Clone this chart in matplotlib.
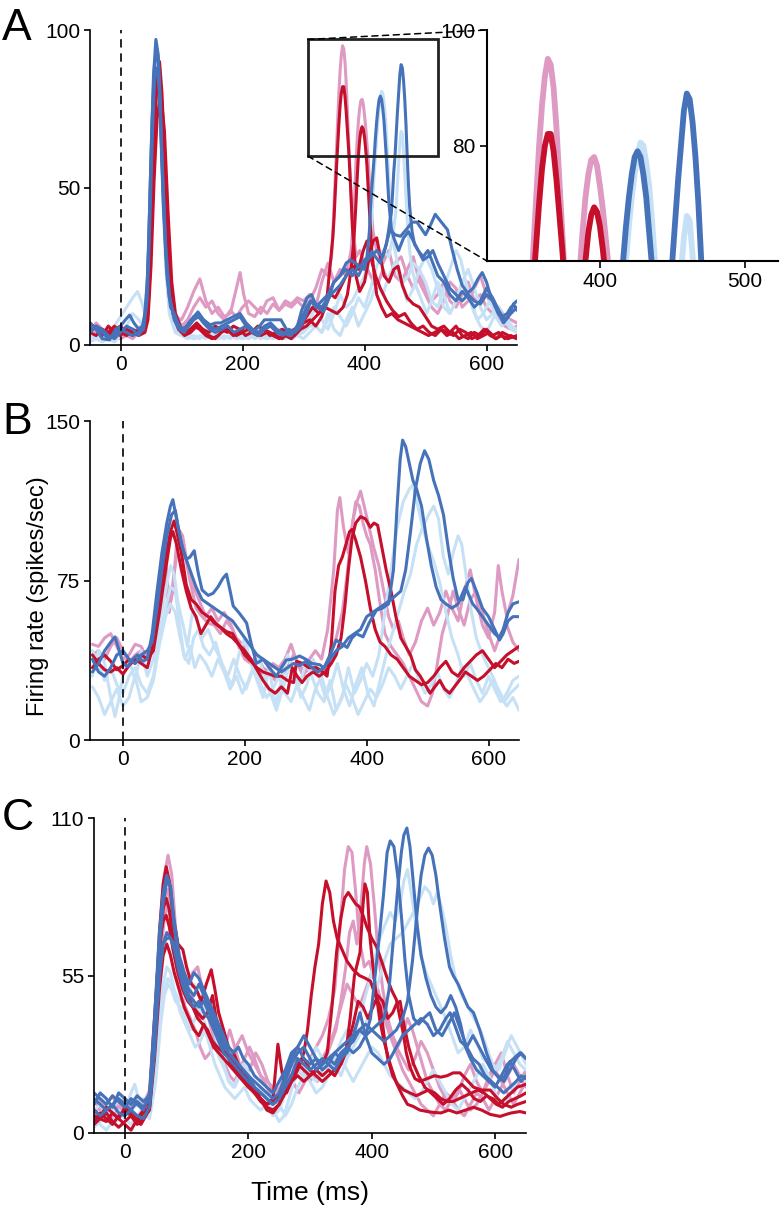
import matplotlib
matplotlib.use("Agg")
import matplotlib.pyplot as plt
from matplotlib.patches import Rectangle, ConnectionPatch

plt.rcParams['font.family'] = ['Liberation Sans', 'DejaVu Sans']

PINK = '#de9ac3'
RED = '#c50f2b'
LBLUE = '#c6e1f6'
BLUE = '#4672ba'

# ---- panel A traces, (time ms, rate) ----
A_PINK = [
    [(-50, 6), (-40, 4), (-30, 3), (-20, 5), (-10, 3), (0, 2), (10, 3), (20, 4), (30, 5), (40, 8), (45, 20), (50, 50), (55, 78), (60, 88), (65, 80), (70, 55), (75, 30), (80, 16), (90, 9), (100, 8), (110, 12), (120, 17), (130, 21), (140, 14), (150, 10), (160, 12), (170, 9), (180, 10), (190, 18), (196, 23), (202, 16), (210, 10), (220, 9), (230, 12), (240, 10), (250, 13), (260, 11), (270, 13), (280, 12), (290, 14), (300, 12), (310, 14), (320, 18), (330, 24), (340, 22), (346, 28), (348, 35), (350, 44), (352, 53), (354, 62), (356, 71), (358, 80), (360, 87), (362, 92), (364, 95), (366, 94), (368, 90), (370, 83), (372, 74), (374, 65), (376, 56), (378, 47), (380, 40), (386, 28), (392, 30), (400, 26), (410, 22), (420, 18), (430, 24), (440, 20), (450, 26), (460, 28), (470, 22), (480, 18), (490, 22), (500, 18), (510, 14), (520, 16), (530, 20), (540, 14), (550, 12), (560, 16), (570, 20), (580, 14), (590, 16), (600, 12), (610, 10), (620, 12), (630, 9), (640, 8), (650, 7)],
    [(-50, 4), (-40, 7), (-30, 5), (-20, 3), (-10, 4), (0, 5), (10, 3), (20, 2), (30, 4), (40, 6), (45, 18), (50, 45), (55, 75), (60, 85), (65, 82), (70, 60), (75, 35), (80, 18), (90, 10), (100, 6), (110, 8), (120, 12), (130, 15), (140, 12), (150, 14), (160, 10), (170, 8), (180, 11), (190, 9), (200, 12), (210, 14), (220, 12), (230, 10), (240, 14), (250, 15), (260, 11), (270, 14), (280, 13), (290, 15), (300, 14), (310, 16), (320, 12), (330, 20), (340, 26), (350, 20), (360, 24), (370, 22), (378, 30), (382, 40), (384, 48), (386, 58), (388, 65), (390, 71), (392, 75), (394, 77.5), (396, 78), (398, 76.5), (400, 73), (402, 69), (404, 64), (406, 59), (408, 52), (410, 46), (414, 36), (420, 30), (430, 26), (440, 30), (450, 22), (460, 20), (470, 24), (480, 28), (490, 20), (500, 16), (510, 12), (520, 10), (530, 14), (540, 20), (550, 18), (560, 12), (570, 14), (580, 18), (590, 22), (600, 16), (610, 12), (620, 8), (630, 6), (640, 5), (650, 6)],
]
A_LBLUE = [
    [(-50, 2), (-40, 3), (-30, 2), (-20, 4), (-10, 6), (0, 9), (10, 12), (20, 15), (28, 17), (34, 14), (40, 10), (45, 25), (50, 60), (55, 88), (58, 93), (62, 85), (68, 55), (74, 25), (80, 10), (90, 4), (100, 3), (110, 2), (120, 3), (130, 2), (140, 4), (150, 3), (160, 2), (170, 3), (180, 2), (190, 4), (200, 3), (210, 2), (220, 3), (230, 2), (240, 3), (250, 2), (260, 3), (270, 2), (280, 4), (290, 3), (300, 5), (310, 8), (320, 12), (330, 8), (340, 5), (350, 10), (360, 16), (370, 12), (380, 14), (390, 18), (400, 22), (408, 30), (412, 40), (414, 48), (416, 55), (418, 60), (420, 66), (422, 71), (424, 75), (426, 78.5), (428, 80.5), (430, 80), (432, 77), (434, 73), (436, 67), (438, 60), (440, 53), (442, 46), (448, 32), (456, 24), (464, 20), (472, 22), (480, 26), (490, 24), (500, 20), (510, 14), (520, 12), (530, 18), (540, 24), (550, 30), (558, 27), (566, 20), (575, 14), (585, 8), (595, 10), (605, 14), (615, 9), (625, 6), (635, 8), (645, 5), (650, 4)],
    [(-50, 3), (-40, 2), (-30, 4), (-20, 3), (-10, 2), (0, 4), (10, 5), (20, 3), (30, 5), (40, 7), (45, 20), (50, 52), (55, 80), (60, 88), (65, 78), (70, 50), (76, 22), (82, 9), (90, 4), (100, 3), (110, 4), (120, 2), (130, 3), (140, 2), (150, 4), (160, 3), (170, 2), (180, 3), (190, 2), (200, 3), (210, 4), (220, 2), (230, 3), (240, 2), (250, 3), (260, 4), (270, 3), (280, 2), (290, 3), (300, 2), (310, 4), (320, 6), (330, 4), (340, 8), (350, 12), (360, 9), (370, 6), (380, 10), (390, 15), (400, 12), (410, 18), (420, 25), (430, 30), (440, 28), (446, 34), (450, 40), (452, 44), (454, 51), (456, 58), (458, 64), (460, 67.8), (462, 67), (464, 61), (466, 54), (468, 47), (470, 40), (474, 30), (478, 24), (486, 18), (494, 14), (502, 10), (510, 14), (520, 20), (530, 16), (540, 10), (550, 14), (560, 20), (570, 16), (580, 10), (590, 6), (600, 4), (610, 8), (620, 12), (630, 8), (640, 6), (650, 5)],
    [(-50, 1), (-40, 2), (-30, 1), (-20, 2), (-10, 1), (0, 3), (10, 6), (20, 10), (30, 8), (40, 5), (45, 22), (50, 55), (55, 84), (60, 90), (65, 80), (70, 52), (76, 24), (82, 10), (90, 5), (100, 3), (120, 2), (140, 3), (160, 2), (180, 3), (200, 2), (220, 3), (240, 2), (260, 3), (280, 2), (300, 4), (310, 6), (320, 6), (330, 4), (340, 10), (350, 5), (360, 3), (370, 8), (380, 12), (390, 6), (400, 10), (410, 14), (420, 20), (430, 16), (440, 22), (450, 26), (460, 20), (470, 14), (480, 18), (490, 24), (500, 28), (510, 24), (520, 18), (530, 12), (540, 10), (550, 14), (560, 20), (570, 24), (580, 18), (590, 12), (600, 8), (610, 10), (620, 12), (630, 8), (640, 5), (650, 4)],
]
A_RED = [
    [(-50, 7), (-40, 5), (-30, 3), (-20, 6), (-10, 4), (0, 3), (10, 5), (20, 4), (30, 3), (40, 4), (45, 8), (50, 25), (55, 52), (60, 72), (66, 80), (72, 68), (78, 42), (84, 20), (90, 10), (100, 5), (110, 4), (120, 6), (130, 5), (140, 3), (150, 2), (160, 3), (170, 5), (180, 4), (190, 3), (200, 4), (210, 5), (220, 4), (230, 3), (240, 4), (250, 3), (260, 2), (270, 3), (280, 2), (290, 4), (300, 7), (310, 8), (320, 6), (330, 9), (338, 14), (344, 26), (348, 34), (350, 40), (352, 48), (354, 56), (356, 63), (358, 70), (360, 76), (362, 80), (364, 82), (366, 82), (368, 79), (370, 74), (372, 68), (374, 62), (376, 55), (378, 47), (380, 38), (386, 22), (392, 17), (400, 20), (408, 28), (414, 33), (420, 34), (426, 28), (432, 22), (440, 20), (448, 24), (455, 25), (462, 19), (470, 15), (480, 13), (490, 12), (500, 9), (510, 6), (520, 5), (530, 6), (540, 4), (550, 6), (560, 3), (570, 2), (580, 4), (590, 3), (600, 5), (610, 3), (620, 4), (630, 2), (640, 3), (650, 2)],
    [(-50, 4), (-40, 3), (-30, 5), (-20, 4), (-10, 6), (0, 4), (10, 3), (20, 5), (30, 4), (40, 5), (45, 10), (50, 32), (55, 62), (60, 86), (64, 90), (68, 80), (74, 52), (80, 26), (86, 12), (95, 6), (105, 4), (115, 5), (125, 7), (135, 5), (145, 4), (155, 6), (165, 5), (175, 4), (185, 6), (195, 5), (205, 3), (215, 4), (225, 6), (235, 5), (245, 3), (255, 4), (265, 5), (275, 4), (285, 3), (295, 5), (305, 6), (315, 8), (325, 10), (335, 12), (345, 11), (355, 10), (365, 12), (372, 16), (378, 24), (382, 32), (384, 38), (386, 45), (388, 53), (390, 60), (392, 65), (394, 68), (396, 69.3), (398, 68.5), (400, 66), (402, 62), (404, 57), (406, 50), (408, 43), (412, 30), (416, 22), (420, 16), (428, 12), (436, 9), (445, 10), (455, 8), (465, 7), (475, 6), (485, 5), (495, 4), (505, 3), (515, 4), (525, 5), (535, 3), (545, 4), (555, 2), (565, 3), (575, 4), (585, 2), (595, 3), (605, 4), (615, 2), (625, 3), (635, 2), (650, 3)],
    [(-50, 5), (-40, 6), (-30, 4), (-20, 3), (-10, 5), (0, 6), (10, 4), (20, 3), (30, 5), (40, 6), (45, 12), (50, 38), (55, 70), (60, 84), (64, 85), (68, 72), (74, 45), (80, 22), (86, 10), (95, 5), (105, 3), (115, 4), (125, 6), (135, 4), (145, 3), (155, 2), (165, 4), (175, 5), (185, 3), (195, 4), (205, 6), (215, 4), (225, 3), (235, 5), (245, 4), (255, 3), (265, 2), (275, 4), (285, 5), (295, 6), (305, 9), (315, 12), (325, 10), (335, 13), (345, 16), (352, 15), (360, 18), (370, 22), (380, 25), (390, 24), (398, 30), (404, 33), (410, 28), (418, 22), (426, 18), (436, 14), (446, 11), (456, 9), (466, 10), (476, 7), (486, 5), (496, 6), (506, 4), (516, 3), (526, 5), (536, 4), (546, 3), (556, 5), (566, 4), (576, 2), (586, 3), (596, 5), (606, 3), (616, 2), (626, 4), (636, 3), (650, 2)],
]
A_BLUE = [
    [(-50, 6), (-40, 5), (-30, 2), (-18, 1.6), (-8, 5), (0, 6), (8, 8), (15, 9.5), (22, 7), (30, 5), (36, 6), (42, 12), (46, 30), (50, 60), (54, 85), (58, 97), (62, 92), (66, 70), (70, 45), (76, 22), (82, 12), (88, 10), (94, 7), (100, 5), (108, 6), (116, 8), (127, 10.5), (136, 8), (147, 6.4), (156, 7), (164, 7), (175, 8), (185, 9), (196, 10), (206, 7), (219, 4.5), (228, 6), (236, 8), (250, 8), (263, 8), (272, 5), (280, 3), (290, 6), (297, 11), (306, 15), (313, 16), (322, 12), (333, 10.6), (342, 15), (349, 19.7), (360, 22), (370, 26), (377, 27), (385, 26), (393, 24.8), (400, 27), (406, 28), (412, 29.7), (418, 28), (426, 26), (434, 31), (442, 36.6), (450, 35), (459, 34.5), (470, 37), (478, 39), (486, 39), (493, 37), (500, 35), (508, 38), (516, 41.5), (526, 39), (536, 36.6), (544, 30), (552, 24), (560, 19), (569, 16.5), (578, 18), (586, 21), (593, 23), (600, 20), (606, 16), (612, 13.3), (619, 10), (626, 9), (634, 10), (640, 12), (645, 12.7), (650, 11)],
    [(-50, 4), (-40, 6), (-30, 5), (-20, 3), (-10, 2), (0, 4), (10, 6), (20, 5), (30, 3), (38, 6), (44, 20), (48, 45), (52, 72), (56, 90), (60, 93), (64, 84), (68, 60), (74, 32), (80, 16), (88, 8), (96, 5), (104, 4), (112, 6), (120, 8), (128, 9), (136, 7), (146, 5), (156, 4), (166, 5), (176, 6), (186, 4), (196, 5), (206, 6), (216, 4), (226, 3), (236, 5), (246, 6), (256, 4), (266, 3), (276, 5), (286, 4), (296, 6), (305, 10), (312, 14), (320, 12), (330, 14), (340, 16), (350, 20), (360, 22), (370, 24), (380, 22), (390, 25), (400, 24), (404, 28), (406, 32), (408, 36), (410, 44), (412, 50), (414, 55), (416, 60), (418, 66), (420, 71), (422, 75), (424, 78), (426, 79), (428, 78), (430, 75), (432, 71), (434, 65), (436, 59), (438, 52), (440, 45), (444, 37), (448, 34), (456, 30), (464, 34), (472, 36), (480, 33), (488, 30), (496, 28), (504, 30), (512, 26), (520, 22), (530, 20), (540, 16), (550, 14), (560, 17), (570, 15), (580, 12), (590, 14), (600, 18), (610, 15), (620, 11), (630, 8), (640, 10), (650, 12)],
    [(-50, 7), (-40, 5), (-30, 4), (-20, 2), (-10, 3), (0, 5), (10, 4), (20, 3), (30, 4), (38, 5), (44, 15), (48, 38), (52, 65), (56, 85), (60, 88), (64, 80), (68, 58), (74, 30), (80, 15), (88, 9), (96, 6), (104, 5), (112, 7), (120, 9), (128, 10), (136, 8), (146, 6), (156, 5), (166, 6), (176, 7), (186, 8), (196, 9), (206, 6), (216, 5), (226, 4), (236, 6), (246, 7), (256, 5), (266, 4), (276, 3), (286, 5), (296, 8), (305, 12), (312, 14), (320, 13), (330, 12), (340, 15), (350, 17), (360, 19), (370, 22), (380, 24), (390, 22), (400, 26), (410, 28), (420, 30), (430, 28), (436, 32), (440, 37), (442, 40), (444, 42), (446, 48), (448, 55), (450, 60), (452, 67), (454, 74), (456, 80), (458, 86), (460, 89), (462, 88), (464, 84), (466, 78), (468, 70), (470, 60), (472, 51), (474, 44), (478, 36), (482, 32), (488, 30), (496, 27), (504, 28), (512, 30), (520, 26), (530, 22), (540, 18), (550, 16), (560, 14), (570, 16), (580, 14), (590, 13), (600, 16), (610, 14), (620, 10), (628, 7), (636, 9), (644, 13), (650, 14)],
]

# ---- panel B traces ----
B_PINK = [
    [(-50, 45), (-40, 44), (-30, 48), (-20, 50), (-10, 44), (0, 38), (10, 40), (20, 45), (30, 44), (40, 38), (50, 50), (60, 75), (66, 88), (72, 80), (76, 62), (82, 70), (90, 100), (98, 96), (106, 82), (116, 72), (126, 65), (136, 58), (146, 62), (156, 56), (166, 60), (176, 55), (186, 48), (196, 45), (206, 40), (216, 35), (226, 32), (236, 30), (246, 36), (256, 34), (266, 38), (276, 45), (286, 36), (296, 30), (306, 38), (316, 42), (326, 38), (336, 52), (346, 80), (352, 108), (356, 114), (362, 100), (370, 88), (378, 104), (384, 112), (390, 117), (396, 110), (404, 100), (412, 90), (420, 82), (428, 70), (436, 58), (444, 52), (452, 56), (460, 48), (470, 40), (480, 46), (490, 56), (500, 62), (510, 54), (520, 60), (530, 70), (540, 62), (550, 56), (560, 70), (570, 80), (580, 66), (590, 54), (600, 48), (610, 60), (616, 82), (622, 70), (630, 58), (640, 68), (650, 85)],
    [(-50, 40), (-40, 42), (-30, 38), (-20, 44), (-10, 48), (0, 42), (10, 36), (20, 40), (30, 42), (40, 40), (50, 48), (58, 70), (64, 82), (70, 75), (76, 60), (84, 78), (92, 95), (100, 90), (110, 75), (120, 62), (130, 58), (140, 55), (150, 54), (160, 50), (170, 56), (180, 52), (190, 44), (200, 38), (210, 36), (220, 40), (230, 34), (240, 32), (250, 28), (260, 30), (270, 34), (280, 40), (290, 35), (300, 32), (310, 35), (320, 30), (330, 34), (340, 40), (350, 48), (360, 60), (368, 78), (376, 100), (382, 112), (388, 110), (394, 102), (400, 96), (406, 92), (414, 80), (422, 64), (430, 50), (440, 44), (450, 40), (460, 36), (470, 30), (480, 24), (490, 18), (500, 16), (508, 22), (516, 36), (524, 50), (532, 58), (542, 70), (550, 62), (560, 54), (570, 66), (580, 70), (590, 60), (600, 50), (610, 42), (620, 50), (630, 54), (640, 46), (650, 42)],
]
B_LBLUE = [
    [(-50, 30), (-40, 42), (-30, 36), (-20, 20), (-13, 11), (-6, 20), (0, 30), (10, 38), (20, 28), (30, 42), (40, 30), (50, 38), (60, 55), (70, 70), (78, 82), (84, 78), (90, 65), (98, 55), (106, 44), (114, 60), (122, 56), (130, 48), (140, 52), (150, 44), (160, 38), (170, 30), (180, 26), (190, 40), (200, 48), (210, 36), (220, 28), (230, 20), (240, 34), (250, 16), (260, 28), (270, 40), (280, 32), (290, 26), (300, 36), (310, 30), (320, 22), (330, 18), (340, 28), (350, 14), (360, 20), (370, 34), (380, 22), (390, 28), (400, 36), (410, 30), (420, 40), (430, 60), (440, 80), (450, 100), (460, 112), (470, 118), (476, 120), (484, 110), (492, 100), (500, 92), (510, 84), (520, 74), (530, 60), (540, 48), (550, 40), (560, 30), (570, 36), (580, 28), (590, 22), (600, 30), (610, 24), (620, 18), (630, 22), (640, 28), (650, 30)],
    [(-50, 42), (-40, 36), (-30, 28), (-20, 34), (-10, 26), (0, 22), (10, 30), (20, 34), (30, 26), (40, 22), (50, 30), (60, 48), (70, 62), (78, 72), (86, 70), (94, 52), (100, 40), (108, 36), (116, 48), (124, 52), (132, 44), (142, 40), (152, 46), (162, 36), (172, 30), (182, 38), (192, 30), (202, 24), (212, 32), (222, 40), (232, 30), (242, 22), (252, 14), (262, 24), (272, 34), (282, 30), (292, 20), (302, 26), (312, 38), (322, 30), (332, 20), (342, 26), (352, 36), (362, 24), (372, 16), (382, 26), (392, 34), (402, 22), (412, 16), (422, 28), (432, 40), (442, 50), (452, 60), (462, 70), (472, 78), (482, 92), (492, 100), (502, 106), (510, 110), (518, 104), (526, 86), (534, 78), (542, 88), (550, 96), (556, 92), (564, 76), (572, 60), (580, 48), (590, 40), (600, 34), (610, 28), (620, 20), (630, 16), (640, 20), (650, 14)],
    [(-50, 25), (-40, 20), (-30, 12), (-20, 18), (-10, 24), (0, 16), (10, 20), (20, 30), (30, 18), (40, 20), (50, 28), (60, 45), (70, 58), (78, 64), (86, 60), (94, 48), (102, 38), (110, 44), (118, 34), (126, 40), (136, 36), (146, 30), (156, 38), (166, 32), (176, 24), (186, 30), (196, 22), (206, 28), (216, 36), (226, 26), (236, 20), (246, 24), (256, 30), (266, 22), (276, 18), (286, 26), (296, 20), (306, 14), (316, 24), (326, 30), (336, 20), (346, 12), (356, 18), (366, 26), (376, 20), (386, 12), (396, 18), (406, 24), (416, 20), (426, 26), (436, 34), (446, 30), (456, 24), (466, 30), (476, 36), (486, 28), (496, 22), (506, 26), (516, 32), (526, 24), (536, 20), (546, 26), (556, 34), (566, 30), (576, 24), (586, 18), (596, 22), (606, 28), (616, 24), (626, 18), (636, 22), (650, 26)],
]
B_RED = [
    [(-50, 40), (-40, 36), (-30, 33), (-20, 32), (-10, 34), (0, 31), (10, 35), (20, 38), (30, 36), (40, 34), (50, 45), (60, 65), (70, 85), (78, 98), (84, 103), (90, 96), (96, 88), (104, 73), (112, 66), (120, 64), (130, 60), (140, 58), (150, 55), (160, 53), (170, 51), (180, 50), (190, 45), (200, 40), (210, 37), (220, 34), (230, 32), (240, 31), (250, 30), (260, 30), (270, 28), (280, 27), (285, 37), (295, 36), (305, 34), (318, 34), (328, 32), (335, 30), (342, 45), (348, 70), (354, 82), (360, 86), (366, 92), (372, 98), (376, 99), (382, 94), (390, 86), (398, 75), (406, 62), (414, 52), (422, 46), (430, 44), (440, 40), (450, 38), (460, 34), (470, 30), (480, 28), (490, 26), (500, 27), (510, 30), (520, 34), (530, 37), (540, 32), (550, 30), (560, 34), (570, 37), (580, 40), (590, 42), (600, 38), (610, 34), (620, 37), (630, 40), (640, 42), (650, 44)],
    [(-50, 34), (-40, 38), (-30, 40), (-20, 37), (-10, 33), (0, 35), (10, 38), (20, 36), (30, 40), (40, 38), (50, 42), (60, 60), (70, 80), (78, 95), (82, 98), (88, 92), (96, 80), (104, 70), (112, 62), (120, 58), (128, 50), (136, 54), (144, 58), (152, 55), (160, 53), (170, 50), (180, 48), (190, 45), (200, 42), (210, 38), (220, 33), (230, 28), (240, 24), (250, 22), (260, 25), (270, 22), (278, 34), (286, 30), (294, 27), (302, 30), (312, 32), (322, 30), (332, 32), (342, 36), (350, 40), (358, 48), (364, 62), (370, 80), (376, 95), (382, 102), (390, 105), (398, 104), (406, 100), (412, 102), (418, 101), (424, 92), (432, 80), (440, 70), (448, 58), (456, 48), (464, 44), (472, 40), (480, 33), (488, 30), (496, 26), (504, 22), (512, 25), (520, 28), (528, 24), (536, 22), (544, 25), (552, 28), (562, 32), (572, 30), (582, 28), (592, 30), (602, 33), (612, 36), (622, 34), (632, 38), (642, 36), (650, 37)],
]
B_BLUE = [
    [(-50, 32), (-40, 36), (-30, 42), (-20, 46), (-13, 48.5), (-6, 42), (0, 36), (8, 34.5), (16, 38), (24, 40), (32, 37), (40, 38), (48, 50), (56, 70), (64, 88), (72, 102), (78, 110), (82, 113), (88, 104), (96, 92), (104, 85), (110, 86), (117, 89), (124, 78), (130, 70.5), (140, 68), (148, 69), (156, 72), (164, 76), (170, 78), (176, 70), (181, 63), (190, 60), (198, 57), (203, 55), (210, 46), (219, 36), (225, 37), (230, 38), (240, 34), (252, 30), (260, 34), (268, 37.6), (278, 38), (290, 39.5), (300, 38), (310, 36), (323, 35.4), (330, 33.8), (340, 40), (350, 47), (360, 45), (368, 43.5), (376, 48), (383, 50), (394, 48.5), (404, 55), (416, 61), (426, 62), (436, 64), (444, 80), (450, 110), (455, 132), (459, 141), (464, 138), (470, 130), (476, 122), (482, 118), (490, 110), (498, 95), (506, 82), (514, 72), (522, 66), (530, 64), (540, 62), (550, 64), (556, 68), (562, 72), (568, 68), (574, 64), (580, 62), (590, 58), (600, 54), (610, 50), (618, 48), (624, 52), (632, 60), (640, 64), (650, 65)],
    [(-50, 38), (-40, 32), (-30, 30), (-20, 34), (-10, 40), (0, 42), (10, 38), (20, 36), (30, 40), (40, 42), (48, 46), (56, 62), (64, 80), (72, 96), (80, 106), (86, 108), (92, 98), (100, 88), (110, 80), (120, 72), (130, 66), (140, 64), (150, 62), (160, 60), (170, 58), (180, 56), (190, 52), (200, 48), (210, 44), (220, 40), (230, 38), (240, 36), (250, 34), (260, 32), (270, 34), (280, 36), (290, 35), (300, 37), (310, 34), (320, 32), (330, 34), (340, 38), (350, 42), (360, 44), (370, 48), (380, 50), (390, 52), (400, 58), (410, 60), (420, 62), (430, 64), (440, 66), (448, 68), (456, 70), (464, 80), (472, 98), (480, 118), (488, 130), (495, 136), (502, 132), (510, 122), (518, 115), (526, 106), (534, 90), (542, 76), (550, 66), (558, 66), (566, 74), (572, 76), (580, 70), (590, 62), (600, 58), (610, 52), (618, 47), (624, 50), (632, 56), (640, 58), (650, 58)],
]

# ---- panel C traces ----
C_PINK = [
    [(-50, 12), (-40, 8), (-30, 10), (-20, 13), (-10, 8), (0, 11), (10, 9), (20, 12), (30, 10), (40, 15), (50, 45), (58, 75), (64, 90), (70, 97), (76, 90), (82, 72), (88, 62), (94, 58), (102, 52), (110, 56), (118, 58), (126, 50), (134, 44), (142, 40), (150, 34), (160, 30), (170, 26), (180, 30), (190, 34), (200, 28), (210, 24), (220, 20), (230, 18), (240, 16), (250, 14), (260, 18), (270, 24), (280, 22), (290, 20), (300, 26), (310, 30), (320, 34), (330, 40), (340, 50), (348, 70), (356, 92), (362, 100), (368, 98), (374, 84), (380, 68), (388, 58), (396, 60), (404, 54), (412, 48), (420, 40), (430, 34), (440, 30), (450, 26), (460, 22), (470, 26), (480, 32), (490, 28), (500, 22), (510, 16), (520, 12), (530, 10), (540, 14), (550, 20), (560, 24), (570, 18), (580, 14), (590, 20), (600, 24), (610, 28), (620, 20), (630, 14), (640, 18), (650, 22)],
    [(-50, 6), (-40, 10), (-30, 8), (-20, 5), (-10, 9), (0, 12), (10, 8), (20, 6), (30, 8), (40, 12), (50, 40), (58, 70), (64, 82), (70, 85), (76, 76), (82, 66), (90, 56), (98, 48), (106, 50), (114, 44), (122, 40), (130, 46), (138, 38), (146, 32), (154, 26), (162, 30), (170, 36), (178, 30), (186, 24), (194, 20), (202, 22), (212, 28), (222, 24), (232, 18), (242, 14), (252, 16), (262, 22), (272, 18), (282, 14), (292, 18), (302, 22), (312, 18), (322, 24), (332, 30), (342, 36), (350, 46), (358, 58), (364, 70), (370, 74), (376, 66), (382, 78), (388, 94), (392, 100), (398, 94), (404, 80), (410, 64), (418, 50), (426, 40), (434, 34), (442, 30), (450, 34), (458, 40), (466, 36), (474, 30), (482, 24), (490, 18), (500, 14), (510, 10), (520, 8), (530, 12), (540, 16), (550, 12), (560, 8), (570, 10), (580, 14), (590, 18), (600, 22), (610, 18), (620, 14), (630, 10), (640, 14), (650, 18)],
    [(-50, 10), (-40, 12), (-30, 6), (-20, 9), (-10, 11), (0, 7), (10, 10), (20, 13), (30, 9), (40, 12), (50, 35), (58, 62), (64, 75), (70, 80), (76, 72), (82, 60), (90, 50), (98, 44), (106, 40), (114, 36), (122, 30), (130, 26), (138, 28), (146, 34), (154, 30), (162, 24), (170, 20), (178, 18), (186, 22), (194, 26), (202, 30), (210, 26), (220, 20), (230, 16), (240, 12), (250, 10), (260, 14), (270, 20), (280, 26), (290, 22), (300, 18), (310, 22), (320, 26), (330, 30), (340, 36), (350, 44), (360, 52), (370, 48), (380, 44), (390, 50), (400, 56), (410, 50), (420, 42), (430, 34), (440, 28), (450, 22), (460, 18), (470, 14), (480, 10), (490, 8), (500, 6), (510, 10), (520, 14), (530, 12), (540, 8), (550, 6), (560, 10), (570, 14), (580, 12), (590, 8), (600, 12), (610, 16), (620, 20), (630, 24), (640, 20), (650, 16)],
]
C_LBLUE = [
    [(-50, 2), (-40, 4), (-30, 6), (-20, 3), (-10, 5), (0, 8), (10, 14), (16, 17), (22, 12), (30, 8), (40, 6), (48, 20), (56, 40), (62, 52), (68, 58), (74, 56), (80, 50), (88, 46), (96, 48), (104, 50), (112, 52), (120, 48), (128, 44), (136, 40), (144, 36), (152, 30), (160, 24), (168, 18), (176, 16), (184, 20), (192, 24), (200, 18), (210, 14), (220, 16), (230, 12), (240, 8), (250, 4), (258, 6), (266, 12), (274, 18), (282, 22), (290, 20), (300, 24), (310, 30), (320, 26), (330, 22), (340, 26), (350, 32), (360, 36), (370, 34), (380, 40), (390, 48), (400, 56), (410, 66), (420, 72), (430, 77), (438, 74), (446, 80), (452, 88), (458, 92), (464, 84), (472, 72), (480, 62), (488, 56), (496, 52), (504, 48), (512, 44), (520, 40), (530, 34), (540, 28), (550, 30), (560, 36), (570, 32), (580, 26), (590, 24), (600, 22), (610, 26), (620, 32), (630, 28), (640, 24), (650, 22)],
    [(-50, 5), (-40, 3), (-30, 1), (-20, 4), (-10, 8), (0, 5), (10, 3), (20, 6), (30, 9), (40, 5), (50, 18), (58, 38), (64, 48), (70, 52), (76, 50), (82, 46), (90, 44), (98, 40), (106, 36), (114, 40), (122, 44), (130, 38), (138, 34), (146, 30), (154, 26), (162, 22), (170, 18), (178, 16), (186, 20), (194, 24), (202, 20), (210, 16), (220, 12), (230, 10), (240, 6), (250, 8), (260, 14), (270, 20), (280, 26), (290, 24), (300, 20), (310, 18), (320, 22), (330, 28), (340, 24), (350, 20), (360, 26), (370, 30), (380, 34), (390, 38), (400, 44), (410, 52), (420, 60), (430, 66), (440, 68), (450, 70), (460, 74), (470, 78), (478, 82), (486, 86), (494, 84), (500, 80), (506, 84), (512, 80), (520, 72), (528, 62), (536, 54), (546, 48), (556, 44), (566, 40), (576, 36), (586, 30), (596, 24), (606, 22), (616, 28), (626, 34), (636, 30), (650, 24)],
    [(-50, 8), (-40, 10), (-30, 6), (-20, 8), (-10, 12), (0, 10), (10, 8), (20, 10), (30, 12), (40, 10), (50, 24), (58, 42), (64, 50), (70, 54), (76, 52), (82, 48), (90, 42), (98, 38), (106, 34), (114, 30), (122, 32), (130, 36), (138, 30), (146, 24), (154, 20), (162, 16), (170, 14), (178, 12), (186, 14), (194, 16), (202, 12), (210, 10), (220, 8), (230, 10), (240, 14), (250, 10), (260, 6), (270, 10), (280, 16), (290, 20), (300, 18), (310, 14), (320, 16), (330, 20), (340, 24), (350, 26), (360, 22), (370, 18), (380, 22), (390, 26), (400, 30), (410, 28), (420, 24), (430, 20), (440, 18), (450, 16), (460, 14), (470, 12), (480, 14), (490, 18), (500, 22), (510, 18), (520, 14), (530, 10), (540, 8), (550, 12), (560, 16), (570, 20), (580, 24), (590, 20), (600, 14), (610, 10), (620, 12), (630, 16), (640, 20), (650, 18)],
]
C_RED = [
    [(-50, 6), (-40, 5), (-30, 4), (-20, 7), (-10, 5), (0, 3), (5, 2), (10, 1), (18, 4), (26, 3), (34, 6), (40, 10), (48, 35), (56, 70), (62, 87), (67, 93), (72, 88), (78, 76), (86, 66), (94, 64), (100, 58), (108, 52), (116, 50), (124, 46), (132, 52), (140, 57), (146, 50), (152, 42), (160, 36), (168, 30), (176, 28), (184, 24), (192, 20), (200, 18), (210, 14), (220, 12), (230, 10), (240, 12), (248, 31), (254, 22), (262, 14), (270, 18), (280, 22), (290, 28), (296, 36), (302, 48), (308, 58), (314, 66), (320, 80), (326, 88), (332, 84), (338, 74), (344, 68), (352, 64), (360, 60), (370, 57), (380, 55), (390, 54), (398, 53), (406, 48), (414, 44), (420, 34), (426, 26), (434, 20), (442, 17), (452, 15), (462, 14), (472, 13), (482, 14), (492, 15), (502, 14), (512, 12), (522, 11), (532, 11), (542, 12), (552, 13), (562, 14), (572, 15), (582, 14), (592, 12), (602, 10), (612, 9), (622, 11), (632, 12), (642, 13), (650, 14)],
    [(-50, 4), (-40, 7), (-30, 5), (-20, 3), (-10, 6), (0, 8), (10, 6), (20, 4), (30, 7), (40, 9), (48, 30), (56, 62), (62, 78), (67, 82), (72, 78), (78, 68), (86, 60), (94, 52), (102, 48), (110, 44), (118, 40), (126, 38), (134, 36), (142, 32), (150, 30), (160, 28), (170, 26), (180, 24), (190, 22), (200, 19), (210, 16), (220, 12), (230, 8), (240, 7), (250, 10), (260, 15), (270, 20), (280, 24), (290, 22), (300, 20), (310, 22), (320, 24), (328, 28), (336, 45), (343, 63), (350, 75), (356, 82), (362, 84), (368, 82), (374, 80), (380, 79), (386, 76), (392, 72), (400, 68), (408, 65), (416, 60), (424, 54.7), (432, 50), (440, 46.5), (446, 40), (451, 35), (456, 28), (462, 23), (470, 19), (478, 18), (490, 19), (502, 20), (512, 19.5), (522, 20), (532, 21), (543, 21), (552, 19), (565, 16), (578, 15), (592, 15), (604, 12), (614, 10), (626, 9), (636, 10), (650, 11)],
    [(-50, 8), (-40, 6), (-30, 9), (-20, 7), (-10, 5), (0, 9), (10, 7), (20, 5), (30, 8), (40, 12), (48, 40), (56, 66), (62, 74), (67, 76), (72, 72), (78, 64), (86, 56), (94, 50), (102, 46), (110, 44), (118, 42), (126, 40), (134, 42), (142, 48), (148, 40), (156, 34), (164, 28), (172, 24), (180, 22), (190, 20), (200, 17), (210, 14), (220, 11), (230, 9), (240, 8), (250, 10), (260, 14), (270, 18), (280, 20), (290, 18), (300, 20), (310, 22), (320, 20), (330, 22), (340, 20), (350, 24), (358, 28), (365, 40), (372, 55), (381, 63), (386, 80), (389, 87), (393, 84), (397, 68.6), (405, 52), (413, 39.6), (420, 32), (430, 24), (440, 17.5), (450, 13), (458, 10), (467, 9.3), (478, 8), (490, 7.5), (500, 7.2), (512, 7), (525, 8), (538, 7), (552, 8), (565, 9), (578, 8), (592, 6.5), (608, 5.8), (618, 6.5), (626, 7), (640, 7.5), (650, 7)],
    [(-50, 3), (-40, 5), (-30, 7), (-20, 4), (-10, 2), (0, 4), (10, 6), (20, 3), (30, 5), (40, 8), (48, 26), (56, 50), (62, 62), (68, 66), (74, 62), (80, 56), (88, 50), (96, 44), (104, 40), (112, 36), (120, 34), (128, 38), (136, 34), (144, 30), (152, 28), (160, 26), (168, 24), (176, 22), (184, 20), (192, 18), (200, 16), (210, 14), (220, 12), (230, 10), (240, 11), (250, 13), (260, 16), (270, 20), (280, 24), (290, 26), (300, 22), (310, 20), (320, 18), (330, 20), (340, 22), (350, 24), (360, 30), (370, 38), (378, 46), (386, 44), (394, 40), (402, 44), (410, 48), (418, 46), (426, 40), (434, 42), (440, 45), (446, 46), (452, 38), (460, 30), (468, 24), (476, 20), (486, 16), (496, 14), (506, 12), (516, 10), (526, 12), (536, 15), (546, 17), (556, 15), (566, 12), (576, 11), (586, 13), (596, 12), (606, 10), (616, 12), (626, 14), (636, 16), (650, 17)],
]
C_BLUE = [
    [(-50, 14), (-40, 12), (-30, 10), (-20, 13), (-10, 11), (0, 9), (10, 12), (20, 10), (30, 8), (40, 14), (48, 40), (56, 70), (62, 84), (68, 90), (74, 86), (80, 72), (88, 60), (96, 54), (104, 50), (112, 48), (120, 52), (128, 48), (136, 44), (144, 40), (152, 36), (160, 32), (168, 28), (176, 26), (184, 24), (192, 22), (200, 20), (210, 16), (220, 14), (230, 12), (240, 10), (250, 12), (260, 18), (270, 24), (280, 28), (290, 30), (300, 26), (310, 22), (320, 24), (330, 26), (340, 24), (350, 28), (360, 30), (370, 28), (380, 30), (390, 34), (398, 40), (406, 56), (413, 70), (419, 83), (425, 98), (430, 102), (436, 100), (442, 90), (448, 76), (454, 60), (460, 48), (468, 40), (476, 38), (484, 40), (494, 42), (504, 36), (514, 34), (524, 38), (534, 42), (544, 36), (554, 30), (564, 26), (574, 24), (584, 20), (594, 18), (604, 16), (614, 14), (624, 16), (634, 18), (642, 20), (650, 19)],
    [(-50, 10), (-40, 14), (-30, 12), (-20, 9), (-10, 14), (0, 12), (10, 10), (20, 13), (30, 11), (40, 13), (48, 35), (56, 65), (62, 80), (68, 88), (74, 86), (80, 74), (88, 62), (96, 56), (104, 52), (112, 56), (120, 54), (128, 50), (136, 46), (144, 42), (152, 38), (160, 34), (168, 30), (176, 28), (184, 30), (192, 26), (200, 24), (210, 20), (220, 18), (230, 16), (240, 14), (250, 18), (260, 22), (270, 28), (280, 30), (290, 26), (300, 24), (310, 26), (320, 22), (330, 24), (340, 28), (350, 26), (360, 30), (370, 32), (380, 36), (390, 34), (400, 36), (410, 38), (420, 40), (428, 50), (436, 70), (442, 85), (448, 98), (452, 104), (457, 106.5), (462, 100), (468, 86), (474, 72), (480, 62), (488, 54), (496, 48), (504, 44), (512, 42), (520, 44), (528, 48), (536, 44), (544, 38), (552, 30), (560, 26), (570, 22), (580, 20), (590, 18), (600, 16), (610, 20), (620, 24), (630, 26), (640, 28), (650, 26)],
    [(-50, 12), (-40, 10), (-30, 8), (-20, 10), (-10, 12), (0, 10), (10, 8), (20, 11), (30, 9), (40, 12), (48, 30), (56, 55), (62, 66), (68, 68), (74, 68), (80, 66), (88, 58), (96, 52), (104, 48), (112, 46), (120, 44), (128, 46), (136, 42), (144, 38), (152, 34), (160, 30), (168, 28), (176, 26), (184, 24), (192, 22), (200, 20), (210, 18), (220, 16), (230, 14), (240, 12), (250, 14), (260, 20), (270, 26), (280, 30), (290, 34), (300, 30), (310, 26), (320, 24), (330, 26), (340, 28), (350, 30), (360, 32), (370, 34), (380, 36), (390, 38), (400, 36), (410, 34), (420, 32), (430, 34), (440, 36), (450, 40), (458, 46), (466, 60), (474, 78), (480, 90), (486, 97), (492, 99.5), (498, 97), (504, 90), (510, 80), (518, 68), (526, 58), (532, 55), (540, 52), (548, 48), (556, 44), (565, 42), (575, 36), (586, 28), (596, 22), (608, 18.6), (616, 20), (624, 25), (632, 22), (642, 18), (650, 20)],
    [(-50, 8), (-40, 6), (-30, 8), (-20, 10), (-10, 7), (0, 6), (10, 8), (20, 6), (30, 5), (40, 9), (48, 28), (56, 55), (62, 66), (68, 70), (74, 68), (80, 64), (88, 56), (96, 50), (104, 46), (112, 44), (120, 46), (128, 42), (136, 40), (144, 36), (152, 32), (160, 28), (168, 26), (176, 24), (184, 22), (192, 20), (200, 18), (210, 16), (220, 14), (230, 12), (240, 10), (250, 12), (260, 16), (270, 20), (280, 26), (290, 24), (300, 22), (310, 24), (320, 26), (330, 24), (340, 22), (350, 26), (360, 28), (370, 34), (381, 42), (390, 34), (400, 28), (410, 26), (420, 24), (430, 26), (440, 30), (450, 34), (460, 36), (470, 38), (480, 40), (490, 38), (500, 34), (510, 36), (520, 40), (527, 42), (534, 38), (544, 32), (554, 30), (564, 34), (574, 30), (584, 26), (594, 22), (604, 20), (614, 18), (624, 22), (634, 26), (642, 28), (650, 26)],
]

Y_TICKS_A = [0, 50, 100]
Y_TICKS_B = [0, 75, 150]
Y_TICKS_C = [0, 55, 110]
X_TICKS = [0, 200, 400, 600]
INSET_X_TICKS = [400, 500]
INSET_Y_TICKS = [80, 100]


def draw_traces(ax, groups, lw):
    for traces, color in groups:
        for tr in traces:
            t = [p[0] for p in tr]
            v = [p[1] for p in tr]
            ax.plot(t, v, color=color, lw=lw, solid_joinstyle='round', solid_capstyle='round')


def style_axes(ax, yticks, ymax, xlim):
    for s in ['top', 'right']:
        ax.spines[s].set_visible(False)
    for s in ['left', 'bottom']:
        ax.spines[s].set_linewidth(1.2)
    ax.set_xlim(*xlim)
    ax.set_ylim(0, ymax)
    ax.set_xticks(X_TICKS)
    ax.set_yticks(yticks)
    ax.tick_params(direction='out', length=4, width=1.2, labelsize=15, pad=3)
    ax.plot([0, 0], [0, ymax], color='k', lw=1.2, ls=(0, (5, 3.5)), zorder=5)


fig = plt.figure(figsize=(7.8, 12.08), dpi=100)
W, H = 780.0, 1208.0
axA = fig.add_axes([90 / W, 1 - 345 / H, 427 / W, 315 / H])
axB = fig.add_axes([90 / W, 1 - 740 / H, 429 / W, 319 / H])
axC = fig.add_axes([94 / W, 1 - 1133 / H, 432 / W, 315 / H])
axI = fig.add_axes([487 / W, 1 - 261 / H, 291 / W, 231 / H])

groups_A = [(A_PINK, PINK), (A_LBLUE, LBLUE), (A_RED, RED), (A_BLUE, BLUE)]
draw_traces(axA, groups_A, 2.2)
draw_traces(axB, [(B_PINK, PINK), (B_LBLUE, LBLUE), (B_RED, RED), (B_BLUE, BLUE)], 2.2)
draw_traces(axC, [(C_PINK, PINK), (C_LBLUE, LBLUE), (C_RED, RED), (C_BLUE, BLUE)], 2.2)

style_axes(axA, Y_TICKS_A, 100, (-50, 650))
style_axes(axB, Y_TICKS_B, 150, (-54, 650))
style_axes(axC, Y_TICKS_C, 110, (-50, 650))

# inset of panel A
draw_traces(axI, groups_A, 4.2)
axI.set_facecolor('none')
axI.set_xlim(322, 523)
axI.set_ylim(60, 100)
axI.set_xticks(INSET_X_TICKS)
axI.set_yticks(INSET_Y_TICKS)
for s in ['top', 'right']:
    axI.spines[s].set_visible(False)
for s in ['left', 'bottom']:
    axI.spines[s].set_linewidth(1.5)
axI.tick_params(direction='out', length=5, width=1.2, labelsize=15, pad=3)

axA.add_patch(Rectangle((307, 60), 213, 37, fill=False, lw=2, ec='#222222', zorder=6))
for xyA, xyB in [((307, 97), (0, 1)), ((307, 60), (0, 0))]:
    con = ConnectionPatch(xyA=xyA, coordsA=axA.transData, xyB=xyB, coordsB=axI.transAxes,
                          color='k', lw=1.1, ls=(0, (4, 3)))
    fig.add_artist(con)

# panel letters and axis labels
for label, ypix in [('A', 28), ('B', 423), ('C', 819)]:
    fig.text(2 / W, 1 - ypix / H, label, fontsize=32, va='center', ha='left')
fig.text(38 / W, 1 - 596 / H, 'Firing rate (spikes/sec)', fontsize=17, rotation=90,
         ha='center', va='center')
fig.text(310 / W, 1 - 1193 / H, 'Time (ms)', fontsize=19, ha='center', va='center')

fig.savefig('out.png', dpi=100)
